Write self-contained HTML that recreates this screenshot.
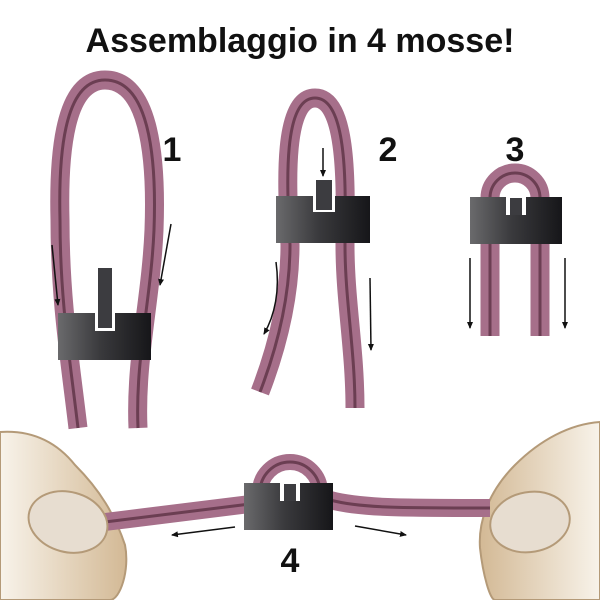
<!DOCTYPE html>
<html><head><style>body{margin:0;background:#fff}svg{display:block}</style></head><body>
<svg width="600" height="600" viewBox="0 0 600 600" xmlns="http://www.w3.org/2000/svg">
<defs>
<linearGradient id="blk" x1="0" x2="1" y1="0" y2="0"><stop offset="0" stop-color="#6a6a6c"/><stop offset="0.45" stop-color="#3a3a3d"/><stop offset="1" stop-color="#161619"/></linearGradient>
<linearGradient id="skinL" x1="0" x2="1"><stop offset="0" stop-color="#f8f3ea"/><stop offset="1" stop-color="#d3b995"/></linearGradient>
<linearGradient id="skinR" x1="1" x2="0"><stop offset="0" stop-color="#f8f3ea"/><stop offset="1" stop-color="#d3b995"/></linearGradient>
<marker id="ah" markerWidth="8" markerHeight="8" refX="6" refY="3" orient="auto" markerUnits="userSpaceOnUse"><path d="M0,0 L7,3 L0,6 Z" fill="#111"/></marker>
</defs>
<text x="300" y="52" text-anchor="middle" font-family="Liberation Sans, sans-serif" font-weight="bold" font-size="34" fill="#111">Assemblaggio in 4 mosse!</text>
<g font-family="Liberation Sans, sans-serif" font-weight="bold" font-size="34" fill="#111" text-anchor="middle">
<text x="172" y="161">1</text><text x="388" y="161">2</text><text x="515" y="161">3</text><text x="290" y="572">4</text></g>

<!-- hands -->
<path d="M0,432 C30,430 55,440 75,465 C100,490 115,515 125,545 C130,570 120,600 110,600 L0,600 Z" fill="url(#skinL)" stroke="#b49a78" stroke-width="2"/>
<path d="M600,422 C570,424 540,440 515,465 C490,490 478,520 480,548 C483,575 490,600 495,600 L600,600 Z" fill="url(#skinR)" stroke="#b49a78" stroke-width="2"/>

<g fill="none" stroke-linecap="butt">
<path d="M78,428 C70,360 60,300 60,220 C58,140 68,80 105,80 C147,80 157,150 154,230 C151,300 135,360 138,428" stroke="#a66f8a" stroke-width="19"/>
<path d="M78,428 C70,360 60,300 60,220 C58,140 68,80 105,80 C147,80 157,150 154,230 C151,300 135,360 138,428" stroke="#6b3e52" stroke-width="3"/>
<path d="M260,392 C280,340 290,290 290,245 C288,200 280,98 315,98 C350,98 345,200 345,245 C345,300 355,350 355,408" stroke="#a66f8a" stroke-width="19"/>
<path d="M260,392 C280,340 290,290 290,245 C288,200 280,98 315,98 C350,98 345,200 345,245 C345,300 355,350 355,408" stroke="#6b3e52" stroke-width="3"/>
<path d="M490,336 L490,198 A25,25 0 0 1 540,198 L540,336" stroke="#a66f8a" stroke-width="19"/>
<path d="M490,336 L490,198 A25,25 0 0 1 540,198 L540,336" stroke="#6b3e52" stroke-width="3"/>
<path d="M260,492 A30,30 0 0 1 320,492" stroke="#a66f8a" stroke-width="16"/>
<path d="M260,492 A30,30 0 0 1 320,492" stroke="#6b3e52" stroke-width="3"/>
<path d="M105,522 L250,504" stroke="#a66f8a" stroke-width="18"/>
<path d="M105,522 L250,504" stroke="#6b3e52" stroke-width="3"/>
<path d="M330,500 C360,508 400,508 490,508" stroke="#a66f8a" stroke-width="18"/>
<path d="M330,500 C360,508 400,508 490,508" stroke="#6b3e52" stroke-width="3"/>
</g>

<ellipse cx="68" cy="522" rx="40" ry="30" fill="#e7ddd0" stroke="#b49a78" stroke-width="2" transform="rotate(15 68 522)"/>
<ellipse cx="530" cy="522" rx="40" ry="30" fill="#e7ddd0" stroke="#b49a78" stroke-width="2" transform="rotate(-10 530 522)"/>

<rect x="58" y="313" width="93" height="47" fill="url(#blk)"/>
<rect x="95" y="311" width="20" height="20" fill="#fff"/>
<rect x="98" y="268" width="14" height="60" fill="#3c3c40"/>
<rect x="276" y="196" width="94" height="47" fill="url(#blk)"/>
<rect x="313" y="194" width="22" height="18" fill="#fff"/>
<rect x="316" y="180" width="16" height="30" fill="#3c3c40"/>
<rect x="470" y="197" width="92" height="47" fill="url(#blk)"/>
<rect x="506" y="195" width="20" height="20" fill="#fff"/>
<rect x="510" y="198" width="12" height="17" fill="#3c3c40"/>
<rect x="244" y="483" width="89" height="47" fill="url(#blk)"/>
<rect x="280" y="481" width="20" height="20" fill="#fff"/>
<rect x="284" y="484" width="12" height="17" fill="#3c3c40"/>

<g stroke="#111" stroke-width="1.5" fill="none" marker-end="url(#ah)">
<path d="M52,245 L58,305"/><path d="M171,224 L160,285"/>
<path d="M323,148 L323,176"/>
<path d="M276,262 C280,290 275,315 264,334"/><path d="M370,278 L371,350"/>
<path d="M470,258 L470,328"/><path d="M565,258 L565,328"/>
<path d="M235,527 L172,535"/><path d="M355,526 L406,535"/>
</g>
</svg>
</body></html>
